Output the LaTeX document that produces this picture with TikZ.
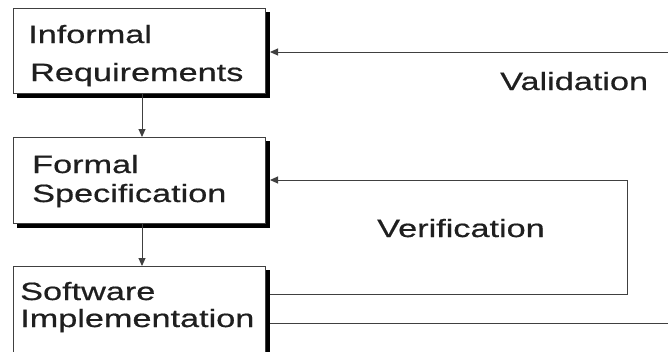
\documentclass[tikz,border=0pt]{standalone}
\usepackage{fontspec}
\newfontfamily\labfont[FakeStretch=1.37,FakeBold=0.6]{Liberation Sans}
\usetikzlibrary{backgrounds,arrows.meta}
\definecolor{linegray}{HTML}{404040}
\tikzset{
  x=1pt, y=-1pt,
  stagebox/.style={draw=linegray, line width=1pt, fill=white, inner sep=0pt},
  shadowfill/.style={fill=black},
  lbl/.style={inner sep=0pt, anchor=base west, font=\labfont\fontsize{25}{30}\selectfont, text=black!88},
  conn/.style={draw=linegray, line width=1pt},
  tip/.style={-{Triangle[length=8pt,width=7pt]}}
}
\begin{document}
\begin{tikzpicture}
\useasboundingbox (0,0) rectangle (668,351);
\clip (0,0) rectangle (668,351);
% boxes
\node[stagebox, minimum width=252pt, minimum height=85pt, anchor=north west] (ir) at (13,8) {};
\node[stagebox, minimum width=252pt, minimum height=86pt, anchor=north west] (fs) at (13,137) {};
\node[stagebox, minimum width=252pt, minimum height=100pt, anchor=north west] (si) at (13,266) {};
\begin{scope}[on background layer]
  \foreach \b in {ir,fs,si}
    \fill[shadowfill] ([shift={(4,4)}]\b.north west) rectangle ([shift={(4,4)}]\b.south east);
\end{scope}
% labels
\node[lbl] (t1) at (28,43) {Informal};
\node[lbl] (t2) at (30,81) {Requirements};
\node[lbl] (t3) at (32,173) {Formal};
\node[lbl] (t4) at (32,202) {Specification};
\node[lbl] (t5) at (20,300) {Software};
\node[lbl] (t6) at (20,327) {Implementation};
\node[lbl] (val) at (500,90) {Validation};
\node[lbl] (ver) at (377,237) {Verification};
% coordinates
\coordinate (vr) at (668,52);
\coordinate (vb) at (668,323);
\coordinate (fr1) at (627,294);
\coordinate (fr2) at (627,180);
% connectors
\draw[conn, tip] (ir.south -| 142,0) -- (fs.north -| 142,0);
\draw[conn, tip] (fs.south -| 142,0) -- (si.north -| 142,0);
\draw[conn, tip] (vr) -- ([xshift=4pt]ir.east |- vr);
\draw[conn] ([xshift=4pt]si.east |- vb) -- (vb);
\draw[conn, tip] ([xshift=4pt]si.east |- fr1) -- (fr1) -- (fr2) -- ([xshift=4pt]fs.east |- fr2);
\end{tikzpicture}
\end{document}
